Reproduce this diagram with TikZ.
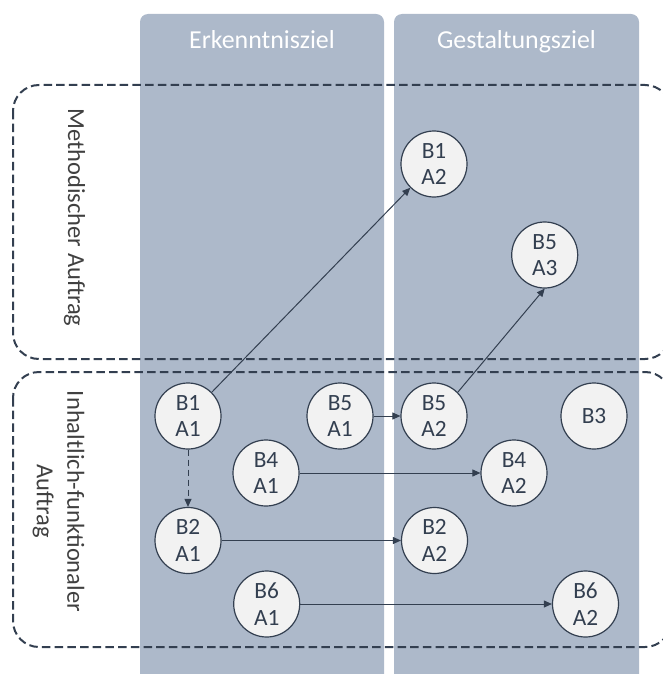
\documentclass[tikz,border=0pt]{standalone}
\usepackage{fontspec}
\setmainfont{Carlito}
\usetikzlibrary{arrows.meta}
\definecolor{colfill}{HTML}{ADB9CA}
\definecolor{ink}{HTML}{333F50}
\definecolor{nodefill}{HTML}{F2F2F2}
\definecolor{labelgray}{HTML}{404040}
\begin{document}
\begin{tikzpicture}[x=1pt,y=-1pt,
  column/.style={fill=colfill, rounded corners=8pt},
  header/.style={text=white, font=\fontsize{25.9}{31}\selectfont, anchor=base},
  group/.style={draw=ink, line width=2pt, dash pattern=on 8.5pt off 4.2pt, rounded corners=26pt},
  grouplabel/.style={text=labelgray, font=\fontsize{24.5}{30.5}\selectfont, rotate=-90, align=center},
  bubble/.style={circle, draw=ink, fill=nodefill, line width=1.2pt, minimum size=66pt,
    inner sep=0pt, text=ink, align=center, font=\fontsize{23.3}{26.7}\selectfont},
  link/.style={draw=ink, line width=1pt, -{Triangle[length=8pt,width=7pt]}},
  dashlink/.style={link, dash pattern=on 6pt off 4pt},
]
\clip (0,0) rectangle (663,674);

% two goal columns
\path[column] (140,14) rectangle (384,700);
\path[column] (394,14) rectangle (639,700);
\node[header] (hdrE) at (262,48.3) {Erkenntnisziel};
\node[header] (hdrG) at (516.5,48.3) {Gestaltungsziel};

% two assignment groups
\draw[group] (13,85) rectangle (671,359);
\draw[group] (13,372) rectangle (671,647);
\node[grouplabel, anchor=base] (lblM) at (68,217.5) {Methodischer Auftrag};
\node[grouplabel] (lblI) at (58.5,501.5) {Inhaltlich-funktionaler\\Auftrag};

% bubbles
\node[bubble] (b1a2) at (434,164) {B1\\A2};
\node[bubble] (b5a3) at (544.7,255) {B5\\A3};
\node[bubble] (b1a1) at (188,416) {B1\\A1};
\node[bubble] (b5a1) at (340,416) {B5\\A1};
\node[bubble] (b5a2) at (434,416) {B5\\A2};
\node[bubble] (b3)   at (594,416) {B3};
\node[bubble] (b4a1) at (266,473) {B4\\A1};
\node[bubble] (b4a2) at (514,473) {B4\\A2};
\node[bubble] (b2a1) at (188,540.5) {B2\\A1};
\node[bubble] (b2a2) at (434.5,540.5) {B2\\A2};
\node[bubble] (b6a1) at (266.7,604) {B6\\A1};
\node[bubble] (b6a2) at (585.5,604) {B6\\A2};

% connectors
\draw[link] (b1a1.north east) -- (b1a2.south west);
\draw[link] (b5a2.north east) -- (b5a3.south);
\draw[link] (b5a1) -- (b5a2);
\draw[link] (b4a1) -- (b4a2);
\draw[link] (b2a1) -- (b2a2);
\draw[link] (b6a1) -- (b6a2);
\draw[dashlink] (b1a1) -- (b2a1);
\end{tikzpicture}
\end{document}
